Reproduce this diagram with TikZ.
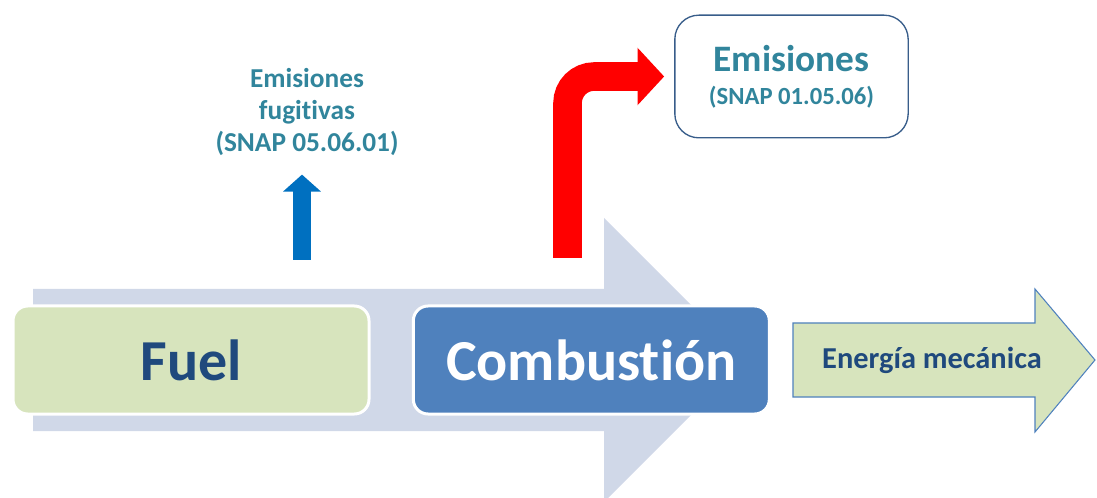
\documentclass[tikz,border=0pt]{standalone}
\usepackage{fontspec}
\setmainfont[Ligatures=NoCommon, RawFeature={-calt}]{Carlito}
\usepackage{tikz}
\usepackage{xcolor}
\definecolor{FlowBlue}{RGB}{208,216,232}
\definecolor{FuelGreen}{RGB}{215,228,189}
\definecolor{CombBlue}{RGB}{79,129,189}
\definecolor{TextBlue}{RGB}{31,73,125}
\definecolor{EmisTeal}{RGB}{49,133,156}
\definecolor{FugBlue}{RGB}{0,112,192}
\definecolor{BoxEdge}{RGB}{56,93,138}
\usetikzlibrary{positioning, arrows.meta, calc}

\tikzset{
  procbox/.style={draw=white, line width=2.25pt, rounded corners=11pt,
    minimum width=267pt, minimum height=81pt, inner sep=0pt,
    font=\bfseries\fontsize{43.5}{50}\selectfont},
  emisbox/.style={draw=BoxEdge, line width=1pt, rounded corners=18pt, fill=white,
    minimum width=175pt, minimum height=92pt, align=center, text=EmisTeal},
  fuglabel/.style={align=center, inner sep=0pt, text=EmisTeal,
    font=\bfseries\fontsize{20.5}{24}\selectfont},
  fugarrow/.style={draw=FugBlue, line width=13.5pt,
    -{Triangle[width=27.75pt, length=12.75pt]}},
  redarrow/.style={draw=red, line width=21.4pt, rounded corners=20pt,
    -{Triangle[width=42pt, length=20pt]}}
}

\begin{document}
\begin{tikzpicture}[x=0.75pt, y=0.75pt]
\clip (0,0) rectangle (1097,497);

% Background flow arrow
\fill[FlowBlue] (33,208) -- (604,208) -- (604,279) -- (746,137) -- (604,-5)
  -- (604,66) -- (33,66) -- cycle;

% Process boxes
\node[procbox, fill=FuelGreen, text=TextBlue] (fuel) at (191,137) {Fuel};
\node[procbox, fill=CombBlue, text=white, right=31pt of fuel] (comb) {Combust\kern0pt i\'on};

% Output arrow
\fill[FuelGreen, draw=CombBlue, line width=0.8pt] (793,174) -- (1035,174)
  -- (1035,208) -- (1095,137) -- (1035,65) -- (1035,100) -- (793,100) -- cycle;
\node[text=TextBlue, font=\bfseries\fontsize{22.8}{26}\selectfont] (energia) at (932,137) {Energ\'ia mec\'anica};

% Fugitive emissions
\node[fuglabel] (fugit) at (307,385) {Emisiones\\fugit\kern0pt ivas\\(SNAP 05.06.01)};
\coordinate (fugbase) at (302,237);
\draw[fugarrow, shorten >=14pt] (fugbase) -- (fugbase |- fugit.south);

% Combustion emissions
\node[emisbox] (emis) at (791.5,420.5)
  {{\bfseries\fontsize{28}{30}\selectfont Emisiones}\\[10pt]{\bfseries\fontsize{18.5}{22}\selectfont (SNAP 01.05.06)}};
\coordinate (redbase) at (567.5,239);
\draw[redarrow, shorten >=7.5pt] (redbase) |- (emis.west);
\end{tikzpicture}
\end{document}
